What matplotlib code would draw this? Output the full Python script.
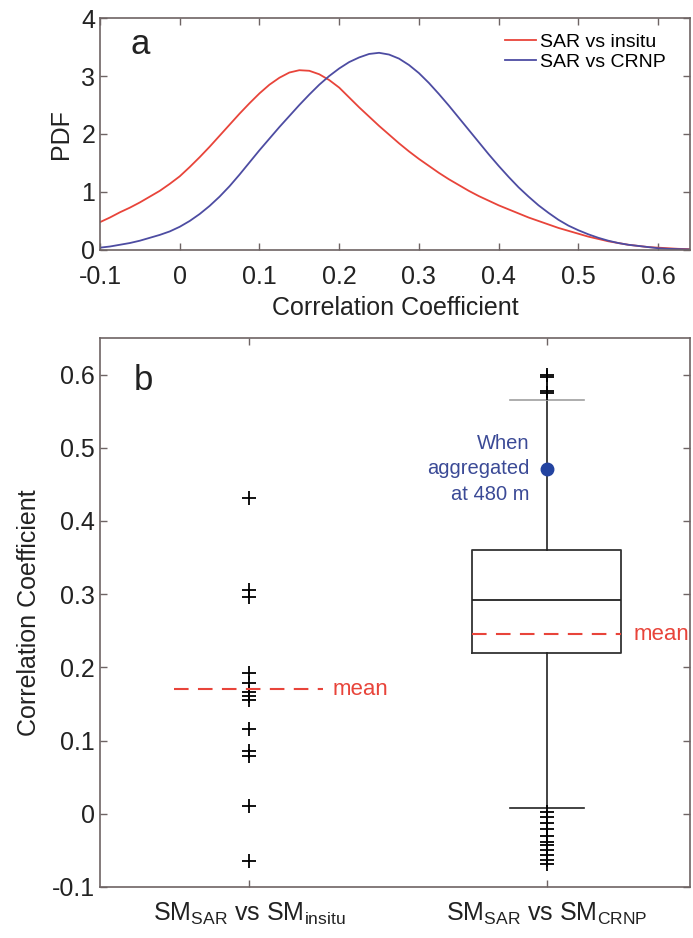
import numpy as np
import matplotlib.pyplot as plt

plt.rcParams['font.family'] = ['Liberation Sans', 'DejaVu Sans']
plt.rcParams['mathtext.default'] = 'regular'
plt.rcParams['axes.unicode_minus'] = False

# (a) PDFs of the correlation coefficient, sampled every 0.0125
pdf_x = np.arange(-0.1, 0.6501, 0.0125)
pdf_insitu = [0.48, 0.56, 0.65, 0.73, 0.82, 0.92, 1.02, 1.14, 1.27, 1.43,
              1.60, 1.78, 1.97, 2.16, 2.35, 2.53, 2.70, 2.85, 2.97, 3.06,
              3.10, 3.09, 3.03, 2.93, 2.80, 2.63, 2.46, 2.30, 2.14, 1.99,
              1.84, 1.70, 1.57, 1.45, 1.33, 1.22, 1.12, 1.02, 0.93, 0.85,
              0.77, 0.70, 0.63, 0.56, 0.50, 0.44, 0.38, 0.33, 0.28, 0.23,
              0.19, 0.15, 0.12, 0.09, 0.07, 0.05, 0.04, 0.03, 0.02, 0.015,
              0.01]
pdf_crnp = [0.04, 0.06, 0.09, 0.12, 0.16, 0.21, 0.26, 0.32, 0.40, 0.50,
            0.62, 0.76, 0.92, 1.10, 1.30, 1.51, 1.72, 1.92, 2.12, 2.31,
            2.50, 2.68, 2.85, 3.00, 3.13, 3.24, 3.32, 3.38, 3.40, 3.37,
            3.30, 3.19, 3.05, 2.88, 2.69, 2.49, 2.28, 2.07, 1.86, 1.65,
            1.45, 1.26, 1.08, 0.92, 0.77, 0.64, 0.52, 0.42, 0.34, 0.27,
            0.21, 0.16, 0.12, 0.09, 0.07, 0.05, 0.03, 0.02, 0.015, 0.01,
            0.005]

# (b) correlation of SAR soil moisture with in-situ probes and CRNP
r_insitu = [0.432, 0.306, 0.296, 0.192, 0.179, 0.167, 0.161, 0.156,
            0.116, 0.086, 0.079, 0.010, -0.065]
insitu_mean = 0.17

crnp_q1, crnp_median, crnp_q3 = 0.219, 0.292, 0.360
crnp_whislo, crnp_whishi = 0.008, 0.565
crnp_fliers = [0.600, 0.597, 0.578, 0.575,
               0.003, -0.004, -0.012, -0.021, -0.030, -0.038, -0.042,
               -0.049, -0.056, -0.063, -0.069]
crnp_mean = 0.245
r_aggregated = 0.471

red = '#e8443a'
blue = '#4d4ca2'
spine_col = '#6e6464'
dash = (0, (7, 4.5))


def style(ax, xpad):
    for s in ax.spines.values():
        s.set_color(spine_col)
        s.set_linewidth(1.2)
    ax.tick_params(direction='in', length=5, width=1, colors=spine_col,
                   labelcolor='#222222', labelsize=18, top=True, right=True)
    ax.tick_params(axis='x', pad=xpad)


fig = plt.figure(figsize=(6.93, 9.38), dpi=100)
ax1 = fig.add_axes([0.1443, 0.7335, 0.8514, 0.2473])
ax2 = fig.add_axes([0.1443, 0.0544, 0.8514, 0.5853])

# --- panel a ---
ax1.plot(pdf_x, pdf_insitu, color=red, lw=1.3, label='SAR vs insitu')
ax1.plot(pdf_x, pdf_crnp, color=blue, lw=1.3, label='SAR vs CRNP')
ax1.set_xlim(-0.1, 0.64)
ax1.set_ylim(0, 4)
xt = [-0.1, 0, 0.1, 0.2, 0.3, 0.4, 0.5, 0.6]
ax1.set_xticks(xt, ['-0.1', '0', '0.1', '0.2', '0.3', '0.4', '0.5', '0.6'])
ax1.set_yticks([0, 1, 2, 3, 4], ['0', '1', '2', '3', '4'])
style(ax1, 11)
ax1.set_xlabel('Correlation Coefficient', fontsize=18, color='#222222', labelpad=5)
ax1.set_ylabel('PDF', fontsize=18, color='#222222', labelpad=6)
ax1.legend(loc='upper left', bbox_to_anchor=(0.686, 0.935), frameon=False,
           fontsize=14, borderpad=0, borderaxespad=0, handlelength=1.6,
           handletextpad=0.2, labelspacing=0.15)
ax1.text(0.068, 0.884, 'a', transform=ax1.transAxes, fontsize=25,
         ha='center', va='center', color='#222222')

# --- panel b ---
ax2.plot(np.ones(len(r_insitu)), r_insitu, '+', color='k', ms=10, mew=1.3)
ax2.hlines(insitu_mean, 0.75, 1.25, colors=red, linestyles=dash, lw=1.5)
ax2.text(1.282, insitu_mean, 'mean', color=red, fontsize=16, va='center')

stats = [dict(med=crnp_median, q1=crnp_q1, q3=crnp_q3,
              whislo=crnp_whislo, whishi=crnp_whishi, fliers=crnp_fliers)]
parts = ax2.bxp(stats, positions=[2], widths=0.5, capwidths=0.25,
                showfliers=True,
                boxprops=dict(color='#333333', lw=1.3),
                medianprops=dict(color='#222222', lw=1.3),
                whiskerprops=dict(color='#222222', lw=1.2, ls='-'),
                capprops=dict(color='#222222', lw=1.2),
                flierprops=dict(marker='+', mec='k', ms=10, mew=1.3))
parts['caps'][1].set_color('#a0a0a0')
ax2.hlines(crnp_mean, 1.75, 2.25, colors=red, linestyles=dash, lw=1.5)
ax2.text(2.289, crnp_mean, 'mean', color=red, fontsize=16, va='center')

ax2.plot(2, r_aggregated, 'o', color='#2343a0', ms=9)
ax2.text(1.942, r_aggregated, 'When\naggregated\nat 480 m', ha='right',
         va='center', multialignment='right', color='#3b4a96', fontsize=14.5,
         linespacing=1.45)

ax2.set_xlim(0.5, 2.48)
ax2.set_ylim(-0.1, 0.65)
ax2.set_xticks([1, 2], [r'SM$_{SAR}$ vs SM$_{insitu}$', r'SM$_{SAR}$ vs SM$_{CRNP}$'])
yt = [-0.1, 0, 0.1, 0.2, 0.3, 0.4, 0.5, 0.6]
ax2.set_yticks(yt, ['-0.1', '0', '0.1', '0.2', '0.3', '0.4', '0.5', '0.6'])
style(ax2, 10)
ax2.set_ylabel('Correlation Coefficient', fontsize=18, color='#222222', labelpad=8)
ax2.text(0.073, 0.923, 'b', transform=ax2.transAxes, fontsize=25,
         ha='center', va='center', color='#222222')

fig.savefig('out.png', dpi=100, facecolor='white')
